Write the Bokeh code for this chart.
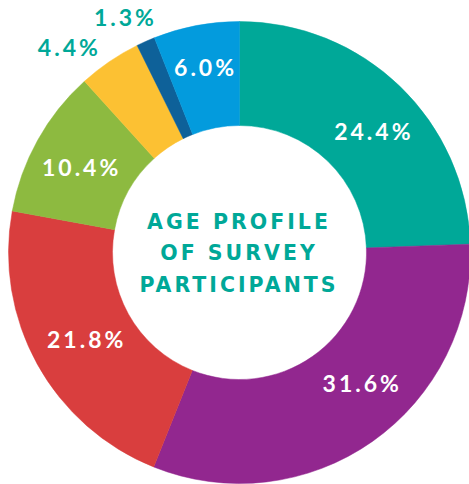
import math
from bokeh.plotting import figure
from bokeh.models import Range1d, ColumnDataSource, InlineStyleSheet
from bokeh.core.properties import value
from bokeh.embed import file_html
from bokeh.resources import INLINE

# ---- data ----
shares = [24.4, 31.6, 21.8, 10.4, 4.4, 1.3, 6.0]
labels = ["24.4%", "31.6%", "21.8%", "10.4%", "4.4%", "1.3%", "6.0%"]
colors = ["#00A898", "#92278F", "#D93E3E", "#8DBA40", "#FCC133", "#0E6199", "#039BDD"]
title_lines = ["AGE PROFILE", "OF SURVEY", "PARTICIPANTS"]

# ---- layout ----
W, H = 469, 484
CX, CY = 239, -252
R_OUT, R_IN = 231, 127
label_r = [180, 178, 177, 181, 268, 262, 189]
label_shift_deg = [-3.6, 7.8, 0.4, 0.8, 5.6, 2.2, 0.0]
label_inside = [True, True, True, True, False, False, True]
TEAL = "#00A898"
LS = 3.0  # letter spacing in px

total = sum(shares)
starts, ends, mids = [], [], []
acc = 0.0
for s in shares:
    a0 = math.pi / 2 - 2 * math.pi * acc / total
    acc += s
    a1 = math.pi / 2 - 2 * math.pi * acc / total
    starts.append(a0)
    ends.append(a1)
    mids.append((a0 + a1) / 2)

p = figure(width=W, height=H, x_range=Range1d(0, W), y_range=Range1d(-H, 0),
           output_backend="svg", toolbar_location=None, min_border=0,
           background_fill_color="white", border_fill_color="white")
p.axis.visible = False
p.grid.visible = False
p.outline_line_color = None

src = ColumnDataSource(dict(start=starts, end=ends, color=colors))
p.annular_wedge(x=CX, y=CY, inner_radius=R_IN, outer_radius=R_OUT,
                start_angle="start", end_angle="end", direction="clock",
                fill_color="color", line_color="color", line_width=0.5, source=src)

lx, ly, lc = [], [], []
for m, r, sh, ins, t in zip(mids, label_r, label_shift_deg, label_inside, labels):
    a = m + math.radians(sh)
    lx.append(CX + r * math.cos(a) - (len(t) - 1) * LS / 2)
    ly.append(CY + r * math.sin(a))
    lc.append("white" if ins else TEAL)
lsrc = ColumnDataSource(dict(x=lx, y=ly, text=labels, color=lc))
p.text(x="x", y="y", text="text", text_color="color", source=lsrc,
       text_font=value("Lato"), text_font_style="bold", text_font_size="23px",
       text_align="center", text_baseline="middle")

ty = [CY + 31, CY, CY - 32]
tx = [CX - 2 - (len(t) - 1) * LS / 2 for t in title_lines]
p.text(x=tx, y=ty, text=title_lines, text_color=TEAL,
       text_font=value("DejaVu Sans"), text_font_style="bold", text_font_size="20.5px",
       text_align="center", text_baseline="middle")

p.stylesheets = [InlineStyleSheet(css=":host { letter-spacing: %gpx; }" % LS)]

open("out.html", "w").write(file_html(p, INLINE))
